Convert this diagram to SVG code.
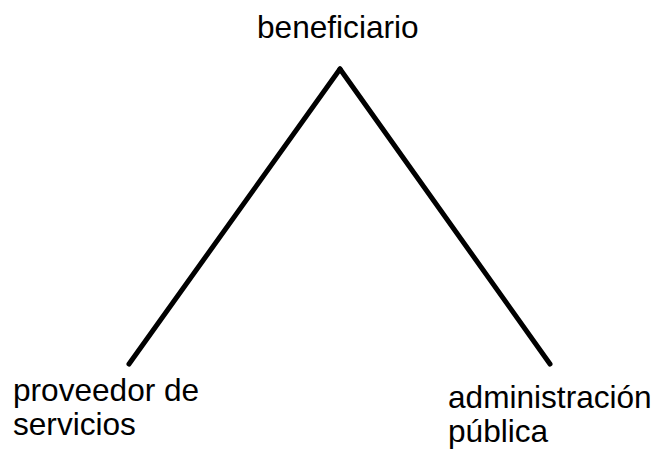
<svg xmlns="http://www.w3.org/2000/svg" width="656" height="450" viewBox="0 0 656 450">
<style>
.lbl{font-family:"Liberation Sans",Arial,sans-serif;font-size:31.6px;fill:#000}
.edge{fill:none;stroke:#000;stroke-width:5;stroke-linecap:round;stroke-linejoin:round}
</style>
<rect width="656" height="450" fill="#fff"/>
<g id="connectors">
<line class="edge" x1="129" y1="364" x2="340" y2="69"/>
<line class="edge" x1="340" y1="69" x2="550" y2="364"/>
</g>
<g id="beneficiario"><text class="lbl" x="257" y="38">beneficiario</text></g>
<g id="proveedor"><text class="lbl" x="13" y="401">proveedor de</text><text class="lbl" x="13" y="435">servicios</text></g>
<g id="administracion"><text class="lbl" x="448" y="408">administración</text><text class="lbl" x="448" y="442">pública</text></g>
</svg>
